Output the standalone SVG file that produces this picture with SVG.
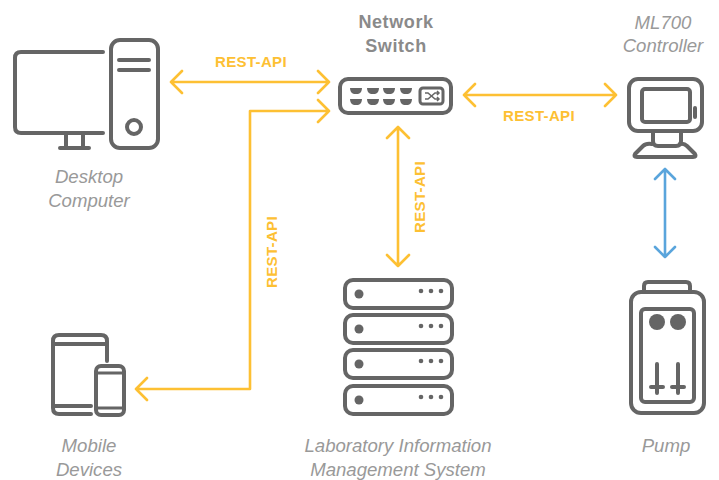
<svg xmlns="http://www.w3.org/2000/svg" width="719" height="480" viewBox="0 0 719 480">
<style>
.i{fill:none;stroke:#656565;stroke-width:4;stroke-linecap:round;stroke-linejoin:round}
.f{fill:#656565}
.t{font-family:"Liberation Sans",Arial,sans-serif;font-size:18.6px;font-style:italic;fill:#999;text-anchor:middle}
.b{font-family:"Liberation Sans",Arial,sans-serif;font-size:18px;font-weight:700;letter-spacing:.6px;fill:#8a8a8a;text-anchor:middle}
.r{font-family:"Liberation Sans",Arial,sans-serif;font-size:15px;font-weight:700;letter-spacing:.35px;fill:#fdc033;text-anchor:middle}
.y{fill:none;stroke:#fdc033;stroke-width:2.6;stroke-linecap:round;stroke-linejoin:round}
.u{fill:none;stroke:#5aa5dc;stroke-width:2.6;stroke-linecap:round;stroke-linejoin:round}
</style>
<g id="connectors">
<path class="y" d="M171 82H329M182 71L171 82L182 93M318 71L329 82L318 93"/>
<path class="y" d="M136 389H250V111H329M147 378L136 389L147 400M318 100L329 111L318 122"/>
<path class="y" d="M464 95H616M475 84L464 95L475 106M605 84L616 95L605 106"/>
<path class="y" d="M398 127V266M387 138L398 127L409 138M387 255L398 266L409 255"/>
<path class="u" d="M665 169V257M655 179L665 169L675 179M655 247L665 257L675 247"/>
<text class="r" x="251" y="67">REST-API</text>
<text class="r" x="539" y="121">REST-API</text>
<text class="r" transform="translate(425 197) rotate(-90)">REST-API</text>
<text class="r" transform="translate(277 252) rotate(-90)">REST-API</text>
</g>
<g id="desktop">
<path class="i" d="M103 52H21Q15 52 15 58V127Q15 133 21 133H103"/>
<path class="i" d="M66 134V147M83 134V147M60 148H89"/>
<rect class="i" x="111" y="40" width="47" height="108" rx="9"/>
<path class="i" d="M119 60H149M119 70H149"/>
<circle class="i" cx="134" cy="127" r="7"/>
<text class="t" x="89" y="183">Desktop</text>
<text class="t" x="89" y="207">Computer</text>
</g>
<g id="switch">
<text class="b" x="396" y="28">Network</text>
<text class="b" x="396" y="52">Switch</text>
<rect class="i" x="340" y="79" width="111" height="34" rx="8"/>
<g class="f">
<path d="M350 88H362Q362 93 358 94H354Q350 93 350 88Z"/>
<path d="M367 88H379Q379 93 375 94H371Q367 93 367 88Z"/>
<path d="M383 88H395Q395 93 391 94H387Q383 93 383 88Z"/>
<path d="M400 88H412Q412 93 408 94H404Q400 93 400 88Z"/>
<path d="M350 99H362Q362 104 358 105H354Q350 104 350 99Z"/>
<path d="M367 99H379Q379 104 375 105H371Q367 104 367 99Z"/>
<path d="M383 99H395Q395 104 391 105H387Q383 104 383 99Z"/>
<path d="M400 99H412Q412 104 408 105H404Q400 104 400 99Z"/>
</g>
<rect x="420" y="88" width="23" height="16" rx="3" fill="none" stroke="#656565" stroke-width="3"/>
<path d="M425 93H428L435 99H439M425 99H428L435 93H439M437 91L439 93L437 95M437 97L439 99L437 101" fill="none" stroke="#656565" stroke-width="1.5"/>
</g>
<g id="controller">
<text class="t" x="663" y="29">ML700</text>
<text class="t" x="663" y="52">Controller</text>
<rect class="i" x="629" y="79" width="73" height="52" rx="9"/>
<rect class="i" x="642" y="89" width="48" height="33" rx="3"/>
<path class="i" d="M695 108V117"/>
<path class="i" d="M653 133V141Q653 146 658 146H676Q681 146 681 141V133"/>
<path class="i" d="M652 144Q646 143 643 146L635 154Q633 157 637 157H693Q697 157 695 154L687 146Q684 143 680 144"/>
</g>
<g id="pump">
<rect class="i" x="631" y="292" width="73" height="121" rx="10"/>
<path class="i" d="M644 291V286Q644 282 648 282H686Q690 282 690 286V291"/>
<rect class="i" x="641" y="309" width="53" height="93" rx="4"/>
<circle class="f" cx="657" cy="322" r="8"/>
<circle class="f" cx="678" cy="322" r="8"/>
<path class="i" d="M657 364V393M678 364V393M651 387H663M672 387H684"/>
<text class="t" x="666" y="452">Pump</text>
</g>
<g id="lims">
<rect class="i" x="345" y="280" width="107" height="28" rx="8"/>
<rect class="i" x="345" y="315" width="107" height="28" rx="8"/>
<rect class="i" x="345" y="350" width="107" height="28" rx="8"/>
<rect class="i" x="345" y="386" width="107" height="28" rx="8"/>
<g class="f">
<circle cx="359" cy="294" r="4.5"/><circle cx="421" cy="291" r="2.3"/><circle cx="431" cy="291" r="2.3"/><circle cx="441" cy="291" r="2.3"/>
<circle cx="359" cy="329" r="4.5"/><circle cx="421" cy="326" r="2.3"/><circle cx="431" cy="326" r="2.3"/><circle cx="441" cy="326" r="2.3"/>
<circle cx="359" cy="364" r="4.5"/><circle cx="421" cy="361" r="2.3"/><circle cx="431" cy="361" r="2.3"/><circle cx="441" cy="361" r="2.3"/>
<circle cx="359" cy="400" r="4.5"/><circle cx="421" cy="397" r="2.3"/><circle cx="431" cy="397" r="2.3"/><circle cx="441" cy="397" r="2.3"/>
</g>
<text class="t" x="398" y="452">Laboratory Information</text>
<text class="t" x="398" y="476">Management System</text>
</g>
<g id="mobile">
<path class="i" d="M107 361V341Q107 335 101 335H59Q53 335 53 341V408Q53 414 59 414H91"/>
<path class="i" d="M54 344H106M54 406H91"/>
<rect class="i" x="96" y="366" width="28" height="49" rx="5"/>
<path d="M97 373H123M97 408H123" fill="none" stroke="#656565" stroke-width="3"/>
<text class="t" x="89" y="452">Mobile</text>
<text class="t" x="89" y="476">Devices</text>
</g>
</svg>
